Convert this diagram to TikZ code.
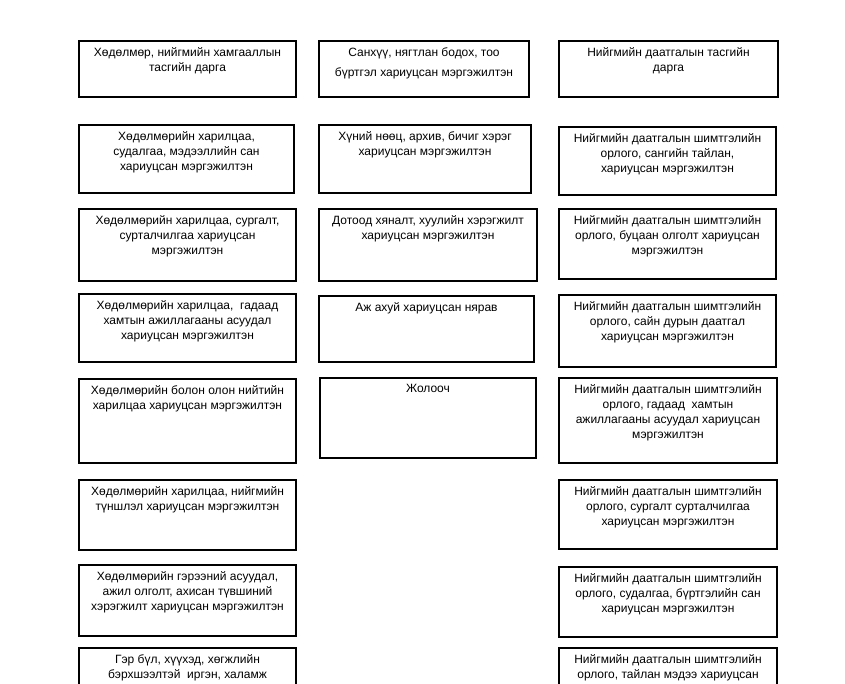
\documentclass[tikz,border=0pt]{standalone}
\usepackage{fontspec}
\setmainfont{Liberation Sans}
\usetikzlibrary{positioning}
\tikzset{
  unit/.style n args={2}{draw=black, line width=1.1pt, inner sep=0pt, outer sep=0pt, font=\fontsize{12}{15}\selectfont,
    execute at begin node={\begin{minipage}[c][#2][t]{#1}\centering\vspace*{6.5pt}},
    execute at end node={\end{minipage}}}
}

\begin{document}
\begin{tikzpicture}
\useasboundingbox (0pt,0pt) rectangle (845pt,-684pt);
\clip (0pt,0pt) rectangle (845pt,-684pt);
% left column
\node[unit={217pt}{56pt}, anchor=north west] (w1) at (79pt,-41pt) {Хөдөлмөр, нийгмийн хамгааллын\\тасгийн дарга};
\node[unit={215pt}{68pt}, below=28pt of w1.south west, anchor=north west] (w2) {Хөдөлмөрийн харилцаа,\\судалгаа, мэдээллийн сан\\хариуцсан мэргэжилтэн};
\node[unit={217pt}{72pt}, below=16pt of w2.south west, anchor=north west] (w3) {Хөдөлмөрийн харилцаа, сургалт,\\сурталчилгаа хариуцсан\\мэргэжилтэн};
\node[unit={217pt}{68pt}, below=13pt of w3.south west, anchor=north west] (w4) {Хөдөлмөрийн харилцаа,~~гадаад\\хамтын ажиллагааны асуудал\\хариуцсан мэргэжилтэн};
\node[unit={217pt}{84pt}, below=17pt of w4.south west, anchor=north west] (w5) {Хөдөлмөрийн болон олон нийтийн\\харилцаа хариуцсан мэргэжилтэн};
\node[unit={217pt}{70pt}, below=17pt of w5.south west, anchor=north west] (w6) {Хөдөлмөрийн харилцаа, нийгмийн\\түншлэл хариуцсан мэргэжилтэн};
\node[unit={217pt}{71pt}, below=15pt of w6.south west, anchor=north west] (w7) {Хөдөлмөрийн гэрээний асуудал,\\ажил олголт, ахисан түвшиний\\хэрэгжилт хариуцсан мэргэжилтэн};
\node[unit={217pt}{72pt}, below=12pt of w7.south west, anchor=north west] (w8) {Гэр бүл, хүүхэд, хөгжлийн\\бэрхшээлтэй~~иргэн, халамж};
% middle column
\node[unit={210pt}{56pt}, right=23pt of w1.north east, anchor=north west] (m1) {Санхүү, нягтлан бодох, тоо\\[5pt]бүртгэл хариуцсан мэргэжилтэн};
\node[unit={212pt}{68pt}, below=28pt of m1.south west, anchor=north west] (m2) {Хүний нөөц, архив, бичиг хэрэг\\хариуцсан мэргэжилтэн};
\node[unit={218pt}{72pt}, below=16pt of m2.south west, anchor=north west] (m3) {Дотоод хяналт, хуулийн хэрэгжилт\\хариуцсан мэргэжилтэн};
\node[unit={215pt}{66pt}, below=15pt of m3.south west, anchor=north west] (m4) {Аж ахуй хариуцсан нярав};
\node[unit={216pt}{80pt}, below=16pt of m4.south west, anchor=north west, xshift=1pt] (m5) {Жолооч};
% right column
\node[unit={219pt}{56pt}, right=30pt of m1.north east, anchor=north west] (s1) {Нийгмийн даатгалын тасгийн\\дарга};
\node[unit={217pt}{68pt}, below=30pt of s1.south west, anchor=north west] (s2) {Нийгмийн даатгалын шимтгэлийн\\орлого, сангийн тайлан,\\хариуцсан мэргэжилтэн};
\node[unit={217pt}{70pt}, below=14pt of s2.south west, anchor=north west] (s3) {Нийгмийн даатгалын шимтгэлийн\\орлого, буцаан олголт хариуцсан\\мэргэжилтэн};
\node[unit={217pt}{72pt}, below=16pt of s3.south west, anchor=north west] (s4) {Нийгмийн даатгалын шимтгэлийн\\орлого, сайн дурын даатгал\\хариуцсан мэргэжилтэн};
\node[unit={218pt}{85pt}, below=11pt of s4.south west, anchor=north west] (s5) {Нийгмийн даатгалын шимтгэлийн\\орлого, гадаад~~хамтын\\ажиллагааны асуудал хариуцсан\\мэргэжилтэн};
\node[unit={218pt}{69pt}, below=17pt of s5.south west, anchor=north west] (s6) {Нийгмийн даатгалын шимтгэлийн\\орлого, сургалт сурталчилгаа\\хариуцсан мэргэжилтэн};
\node[unit={218pt}{70pt}, below=18pt of s6.south west, anchor=north west] (s7) {Нийгмийн даатгалын шимтгэлийн\\орлого, судалгаа, бүртгэлийн сан\\хариуцсан мэргэжилтэн};
\node[unit={218pt}{72pt}, below=11pt of s7.south west, anchor=north west] (s8) {Нийгмийн даатгалын шимтгэлийн\\орлого, тайлан мэдээ хариуцсан};
\end{tikzpicture}
\end{document}
